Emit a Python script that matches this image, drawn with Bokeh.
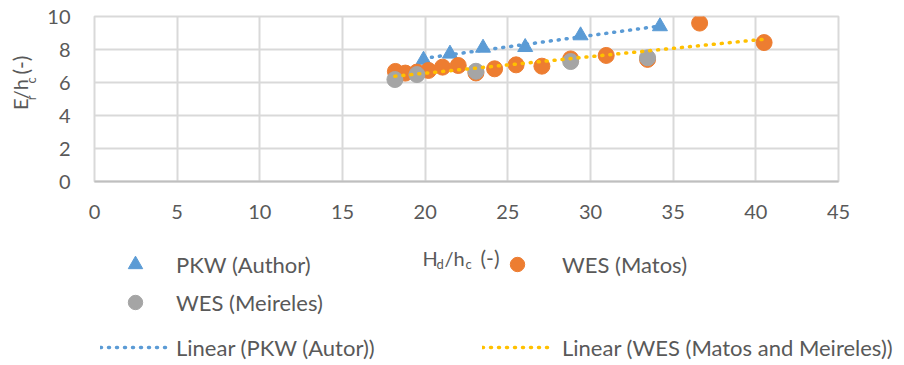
import numpy as np
from bokeh.plotting import figure
from bokeh.layouts import column, row
from bokeh.models import Legend, LegendItem, Label, FixedTicker, Range1d
from bokeh.embed import file_html
from bokeh.resources import INLINE

# ---- data ----
pkw_x = [19.9, 21.5, 23.5, 26.05, 29.4, 34.2]
pkw_y = [7.37, 7.74, 8.1, 8.14, 8.85, 9.4]
matos_x = [18.2, 18.8, 19.5, 20.2, 21.05, 22.0, 23.07, 24.2, 25.5, 27.06, 28.8, 30.95, 33.45, 36.6, 40.5]
matos_y = [6.67, 6.57, 6.63, 6.73, 6.93, 7.03, 6.58, 6.83, 7.07, 6.99, 7.43, 7.64, 7.4, 9.6, 8.42]
meireles_x = [18.17, 19.5, 23.07, 28.8, 33.45]
meireles_y = [6.18, 6.48, 6.68, 7.27, 7.5]
x_ticks = [0, 5, 10, 15, 20, 25, 30, 35, 40, 45]
y_ticks = [0, 2, 4, 6, 8, 10]

BLUE = "#5b9bd5"
ORANGE = "#ed7d31"
GRAY = "#a5a5a5"
YELLOW = "#ffc000"
TXT = "#595959"
FONT = "Lato"

TOP_H = 238      # height of the upper row (title strip + plot)
YT_W = 44        # width of the y-title strip
LEG_H = 365 - TOP_H

# ---------------- main plot ----------------
p = figure(width=904 - YT_W, height=TOP_H, output_backend="svg", toolbar_location=None,
           x_range=Range1d(0, 45), y_range=Range1d(0, 10),
           min_border_left=93 - YT_W, min_border_right=66, min_border_top=16,
           min_border_bottom=TOP_H - 181)
p.background_fill_color = "white"
p.border_fill_color = "white"
p.outline_line_color = "#d9d9d9"
p.outline_line_width = 2

for ax in (p.xaxis, p.yaxis):
    ax.major_tick_line_color = None
    ax.minor_tick_line_color = None
    ax.major_tick_out = 0
    ax.major_tick_in = 0
    ax.major_label_text_font = FONT
    ax.major_label_text_font_size = "20px"
    ax.major_label_text_color = TXT
p.xaxis.ticker = FixedTicker(ticks=x_ticks)
p.yaxis.ticker = FixedTicker(ticks=y_ticks)
p.xaxis.axis_line_color = "#bfbfbf"
p.xaxis.axis_line_width = 2
p.yaxis.axis_line_color = None
p.xaxis.major_label_standoff = 23
p.yaxis.major_label_standoff = 24
p.xgrid.ticker = FixedTicker(ticks=x_ticks)
p.ygrid.ticker = FixedTicker(ticks=y_ticks)
p.xgrid.grid_line_color = "#d9d9d9"
p.ygrid.grid_line_color = "#d9d9d9"
p.xgrid.grid_line_width = 2
p.ygrid.grid_line_width = 2

p.scatter(pkw_x, pkw_y, marker="triangle", size=15, color=BLUE)
p.scatter(matos_x, matos_y, marker="circle", size=16, color=ORANGE)
p.scatter(meireles_x, meireles_y, marker="circle", size=16, color=GRAY)

# linear trendlines (least-squares fits of the data, like Excel's)
k1, b1 = np.polyfit(pkw_x, pkw_y, 1)
tx1 = np.array([min(pkw_x), max(pkw_x)])
p.line(tx1, k1 * tx1 + b1, line_color=BLUE, line_width=3.5, line_dash="1 7", line_cap="round")
wx = np.array(matos_x + meireles_x)
wy = np.array(matos_y + meireles_y)
k2, b2 = np.polyfit(wx, wy, 1)
tx2 = np.array([wx.min(), wx.max()])
p.line(tx2, k2 * tx2 + b2, line_color=YELLOW, line_width=3.5, line_dash="1 7", line_cap="round")


def blank(w, h, xr=(0, 1), yr=(0, 1)):
    f = figure(width=w, height=h, output_backend="svg", toolbar_location=None,
               x_range=Range1d(*xr), y_range=Range1d(*yr), x_axis_type=None, y_axis_type=None,
               min_border=0, min_border_left=0, min_border_right=0, min_border_top=0, min_border_bottom=0)
    f.grid.visible = False
    f.outline_line_color = None
    f.background_fill_color = "white"
    f.border_fill_color = "white"
    return f


# y title strip: data coordinates equal pixels from its top-left corner
pyt = blank(YT_W, TOP_H, (0, YT_W), (TOP_H, 0))
pl = blank(904, LEG_H)     # x title + legend strip


def xpiece(txt, gx, gy, size):
    pl.add_layout(Label(x=gx, y=LEG_H - (gy - TOP_H), x_units="screen", y_units="screen", text=txt,
                        text_font=FONT, text_font_size=size, text_color=TXT,
                        text_align="left", text_baseline="alphabetic"))


# x title: H_d/h_c (-)
for txt, gx, gy, sz in [("H", 422, 257, "20px"), ("d", 436, 263, "13px"), ("/h", 444, 257, "20px"),
                        ("c", 465, 263, "13px"), ("(-)", 480, 257, "21px")]:
    xpiece(txt, gx, gy, sz)

# y title: E_r/h_c (-), rotated; pieces placed by their centres
A = np.pi / 2
for txt, gx, gy, sz in [("E", 19.5, 126.5, "20px"), ("r", 30, 117.5, "13px"), ("/h", 19.5, 104.8, "20px"),
                        ("c", 30, 92, "13px"), ("(-)", 19.5, 70, "21px")]:
    pyt.add_layout(Label(x=gx, y=gy, text=txt, text_font=FONT, text_font_size=sz, text_color=TXT,
                         angle=A, text_align="center", text_baseline="middle"))

# legend entries (glyph-only sample renderers, no data points)
s_pkw = pl.scatter([np.nan], [np.nan], marker="triangle", size=15, color=BLUE)
s_mat = pl.scatter([np.nan], [np.nan], marker="circle", size=16, color=ORANGE)
s_mei = pl.scatter([np.nan], [np.nan], marker="circle", size=16, color=GRAY)
s_t1 = pl.line([np.nan, np.nan], [np.nan, np.nan], line_color=BLUE, line_width=3.5, line_dash="1 7", line_cap="round")
s_t2 = pl.line([np.nan, np.nan], [np.nan, np.nan], line_color=YELLOW, line_width=3.5, line_dash="1 7", line_cap="round")


def add_leg(renderer, label, gx, gc, standoff, gh):
    vy = 365 - gc - gh / 2
    leg = Legend(items=[LegendItem(label=label, renderers=[renderer])], location=(gx, vy),
                 orientation="vertical", glyph_width=70, glyph_height=gh, label_standoff=standoff,
                 padding=0, margin=0, spacing=0, border_line_alpha=0, background_fill_alpha=0,
                 label_text_font=FONT, label_text_font_size="22px", label_text_color=TXT)
    pl.add_layout(leg)


add_leg(s_pkw, "PKW (Author)", 100, 264, 6, 36)
add_leg(s_mat, "WES (Matos)", 482, 264, 10, 36)
add_leg(s_mei, "WES (Meireles)", 100, 302, 6, 36)
add_leg(s_t1, "Linear (PKW (Autor))", 100, 347, 6, 28)
add_leg(s_t2, "Linear (WES (Matos and Meireles))", 482, 347, 10, 28)

layout = column(row(pyt, p), pl)
open("out.html", "w").write(file_html(layout, INLINE))
